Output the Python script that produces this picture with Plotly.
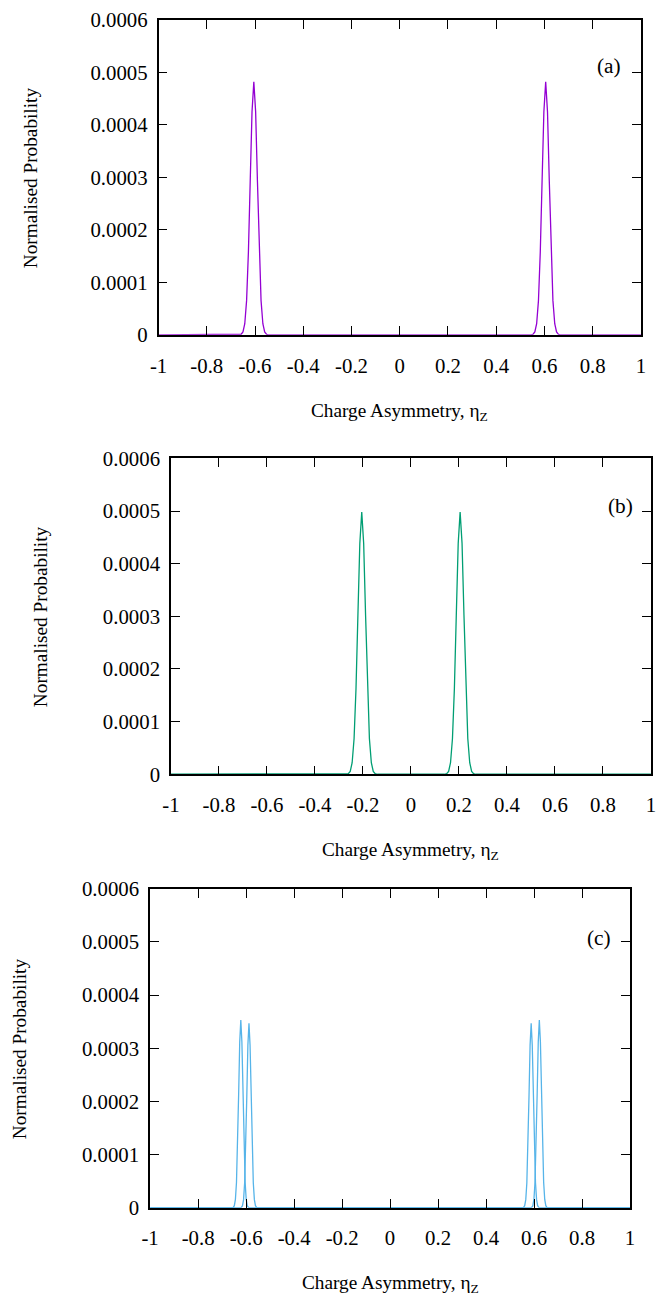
import plotly.graph_objects as go

W, H = 659, 1296

# ---------------- data ----------------
# Panel (a): two peaks at about -0.605 and +0.605
a_x = [-1.0, -0.665,
       -0.6575, -0.650, -0.6425, -0.635, -0.6275, -0.620, -0.6125, -0.605,
       -0.5975, -0.590, -0.5825, -0.575, -0.5675, -0.560, -0.5525,
       -0.545, 0.545,
       0.5525, 0.560, 0.5675, 0.575, 0.5825, 0.590, 0.5975, 0.605,
       0.6125, 0.620, 0.6275, 0.635, 0.6425, 0.650, 0.6575,
       0.665, 1.0]
a_y = [0.0, 0.0,
       0.0000011, 0.0000054, 0.0000212, 0.0000652, 0.000157, 0.000292, 0.000425, 0.000482,
       0.000425, 0.000292, 0.000157, 0.0000652, 0.0000212, 0.0000054, 0.0000011,
       0.0, 0.0,
       0.0000011, 0.0000054, 0.0000212, 0.0000652, 0.000157, 0.000292, 0.000425, 0.000482,
       0.000425, 0.000292, 0.000157, 0.0000652, 0.0000212, 0.0000054, 0.0000011,
       0.0, 0.0]

# Panel (b): two peaks at about -0.205 and +0.205
b_x = [-1.0, -0.27,
       -0.261, -0.253, -0.245, -0.237, -0.229, -0.221, -0.213, -0.205,
       -0.197, -0.189, -0.181, -0.173, -0.165, -0.157, -0.149,
       -0.14, 0.14,
       0.149, 0.157, 0.165, 0.173, 0.181, 0.189, 0.197, 0.205,
       0.213, 0.221, 0.229, 0.237, 0.245, 0.253, 0.261,
       0.27, 1.0]
b_y = [0.0, 0.0,
       0.0000011, 0.0000055, 0.0000219, 0.0000674, 0.000162, 0.000302, 0.000439, 0.000498,
       0.000439, 0.000302, 0.000162, 0.0000674, 0.0000219, 0.0000055, 0.0000011,
       0.0, 0.0,
       0.0000011, 0.0000055, 0.0000219, 0.0000674, 0.000162, 0.000302, 0.000439, 0.000498,
       0.000439, 0.000302, 0.000162, 0.0000674, 0.0000219, 0.0000055, 0.0000011,
       0.0, 0.0]

# Panel (c): outer peaks at about +-0.622, inner peaks at about +-0.588
c_outer_x = [-1.0, -0.66,
             -0.6535, -0.649, -0.6445, -0.640, -0.6355, -0.631, -0.6265, -0.622,
             -0.6175, -0.613, -0.6085, -0.604, -0.5995, -0.595, -0.5905,
             -0.585, 0.585,
             0.5905, 0.595, 0.5995, 0.604, 0.6085, 0.613, 0.6175, 0.622,
             0.6265, 0.631, 0.6355, 0.640, 0.6445, 0.649, 0.6535,
             0.66, 1.0]
c_outer_y = [0.0, 0.0,
             0.0000008, 0.0000039, 0.0000155, 0.0000478, 0.000115, 0.000214, 0.000312, 0.000353,
             0.000312, 0.000214, 0.000115, 0.0000478, 0.0000155, 0.0000039, 0.0000008,
             0.0, 0.0,
             0.0000008, 0.0000039, 0.0000155, 0.0000478, 0.000115, 0.000214, 0.000312, 0.000353,
             0.000312, 0.000214, 0.000115, 0.0000478, 0.0000155, 0.0000039, 0.0000008,
             0.0, 0.0]
c_inner_x = [-1.0, -0.626,
             -0.6195, -0.615, -0.6105, -0.606, -0.6015, -0.597, -0.5925, -0.588,
             -0.5835, -0.579, -0.5745, -0.570, -0.5655, -0.561, -0.5565,
             -0.55, 0.55,
             0.5565, 0.561, 0.5655, 0.570, 0.5745, 0.579, 0.5835, 0.588,
             0.5925, 0.597, 0.6015, 0.606, 0.6105, 0.615, 0.6195,
             0.626, 1.0]
c_inner_y = [0.0, 0.0,
             0.0000008, 0.0000039, 0.0000152, 0.0000470, 0.000113, 0.000210, 0.000306, 0.000347,
             0.000306, 0.000210, 0.000113, 0.0000470, 0.0000152, 0.0000039, 0.0000008,
             0.0, 0.0,
             0.0000008, 0.0000039, 0.0000152, 0.0000470, 0.000113, 0.000210, 0.000306, 0.000347,
             0.000306, 0.000210, 0.000113, 0.0000470, 0.0000152, 0.0000039, 0.0000008,
             0.0, 0.0]

x_tickvals = [-1, -0.8, -0.6, -0.4, -0.2, 0, 0.2, 0.4, 0.6, 0.8, 1]
x_ticktext = ["-1", "-0.8", "-0.6", "-0.4", "-0.2", "0", "0.2", "0.4", "0.6", "0.8", "1"]
y_tickvals = [0, 0.0001, 0.0002, 0.0003, 0.0004, 0.0005, 0.0006]
y_ticktext = ["0", "0.0001", "0.0002", "0.0003", "0.0004", "0.0005", "0.0006"]

panel_labels = ["(a)", "(b)", "(c)"]
x_title = "Charge Asymmetry, η<sub>Z</sub>"
y_title = "Normalised Probability"

color_a = "#9400D3"
color_b = "#009E73"
color_c = "#56B4E9"

# ---------------- layout geometry (target pixels in the photographed page) ----------------
# (left, right, top, bottom) of each plot area
boxes = [(158.5, 644, 16, 332), (171, 654, 456, 773), (150, 633, 888, 1208)]
ytitle_x = [30, 40, 18]
xtitle_y_off = 77
label_pos = [(612, 62), (623, 504), (602, 937)]

# measured mapping between figure pixels and photographed pixels
SCALE = 0.985
SHIFT = 8.0


def fpx(v):
    """target photographed pixel -> figure pixel"""
    return (v - SHIFT) / SCALE


def px(x):
    return min(1.0, max(0.0, fpx(x) / W))


def py(y):
    return min(1.0, max(0.0, 1 - fpx(y) / H))


FONT = "Liberation Serif, Times New Roman, serif"
FS_TICK = 20.5 / SCALE
FS_TITLE = 19 / SCALE
FS_LABEL = 21 / SCALE

fig = go.Figure()
traces = [
    (a_x, a_y, color_a, 1),
    (b_x, b_y, color_b, 2),
    (c_outer_x, c_outer_y, color_c, 3),
    (c_inner_x, c_inner_y, color_c, 3),
]
for xs, ys, col, k in traces:
    fig.add_trace(go.Scatter(
        x=xs, y=ys, mode="lines",
        line=dict(color=col, width=1.3),
        xaxis="x" if k == 1 else f"x{k}",
        yaxis="y" if k == 1 else f"y{k}",
        showlegend=False, hoverinfo="skip"))

layout = dict(
    width=W, height=H,
    margin=dict(l=0, r=0, t=0, b=0),
    paper_bgcolor="white", plot_bgcolor="white",
    font=dict(family=FONT, size=FS_TITLE, color="black"),
    showlegend=False,
)
annotations = []
for i, (l, r, t, b) in enumerate(boxes):
    k = "" if i == 0 else str(i + 1)
    axis_common = dict(
        showline=True, linecolor="black", linewidth=1.5, mirror="allticks",
        ticks="inside", ticklen=9, tickwidth=1.3, tickcolor="black",
        showgrid=False, zeroline=False,
        tickfont=dict(family=FONT, size=FS_TICK, color="black"),
    )
    layout["xaxis" + k] = dict(
        axis_common,
        domain=[px(l), px(r)], range=[-1, 1],
        tickvals=x_tickvals, ticktext=x_ticktext,
        anchor="y" + k, ticklabelstandoff=11,
    )
    layout["yaxis" + k] = dict(
        axis_common,
        domain=[py(b), py(t)], range=[0, 0.0006],
        tickvals=y_tickvals, ticktext=y_ticktext,
        anchor="x" + k, ticklabelstandoff=5,
    )
    # x-axis title
    annotations.append(dict(
        x=px((l + r) / 2), y=py(b + xtitle_y_off),
        xref="paper", yref="paper", text=x_title, showarrow=False,
        xanchor="center", yanchor="middle",
        font=dict(family=FONT, size=FS_TITLE, color="black")))
    # y-axis title
    annotations.append(dict(
        x=px(ytitle_x[i]), y=py((t + b) / 2),
        xref="paper", yref="paper", text=y_title, showarrow=False,
        textangle=-90, xanchor="center", yanchor="middle",
        font=dict(family=FONT, size=FS_TITLE, color="black")))
    # panel label
    lx, ly = label_pos[i]
    annotations.append(dict(
        x=px(lx), y=py(ly),
        xref="paper", yref="paper", text=panel_labels[i], showarrow=False,
        xanchor="center", yanchor="middle",
        font=dict(family=FONT, size=FS_LABEL, color="black")))

layout["annotations"] = annotations
fig.update_layout(**layout)
fig.write_html("out.html")
